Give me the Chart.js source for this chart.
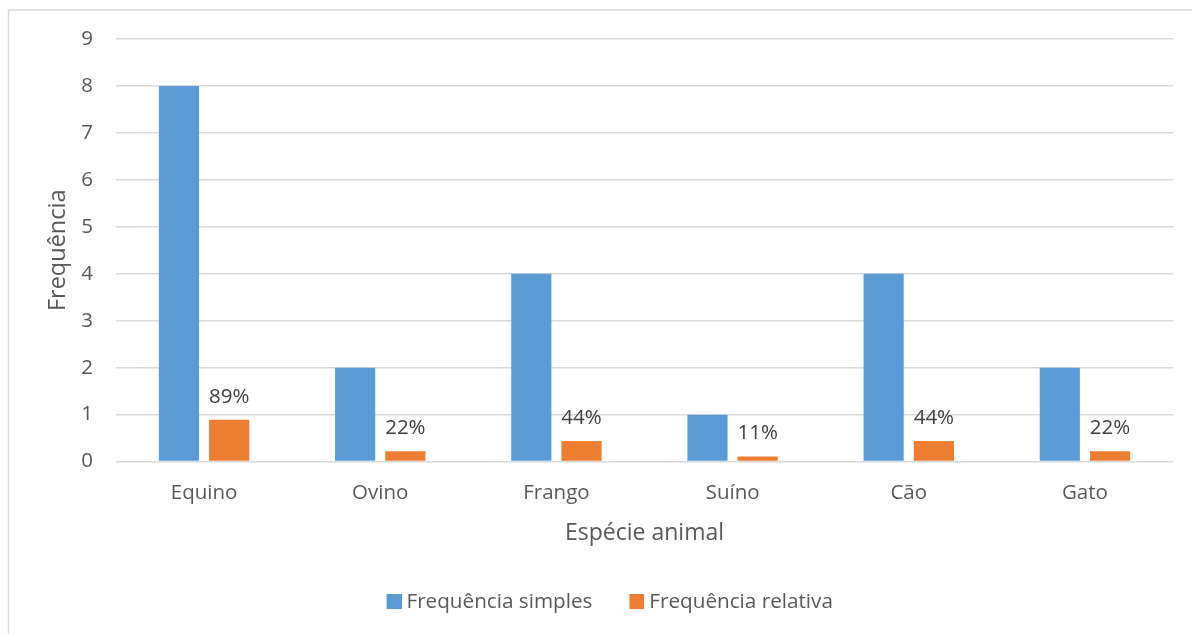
<!DOCTYPE html>
<html>
<head>
<meta charset="utf-8">
<script src="https://cdn.jsdelivr.net/npm/chart.js@4"></script>
<style>
  html, body { margin: 0; padding: 0; background: #ffffff; }
  #wrap { position: relative; width: 1192px; height: 634px; }
</style>
</head>
<body>
<div id="wrap"><canvas id="chart" width="1192" height="634"></canvas></div>
<script>
// Espécies animais e frequências observadas
const especies = ['Equino', 'Ovino', 'Frango', 'Suíno', 'Cão', 'Gato'];
const frequenciaSimples = [8, 2, 4, 1, 4, 2];
const frequenciaRelativa = [0.89, 0.22, 0.44, 0.11, 0.44, 0.22];
const rotulosRelativos = ['89%', '22%', '44%', '11%', '44%', '22%'];
const yTicks = [0, 1, 2, 3, 4, 5, 6, 7, 8, 9];

const FONT = "'Open Sans', 'Noto Sans', sans-serif";
const TEXT = '#595959';
const AZUL = '#5b9bd5';
const LARANJA = '#ed7d31';

// Quadrado da legenda desenhado à direita da área reservada,
// deixando o texto mais próximo do marcador
function marcador(cor) {
  const cv = document.createElement('canvas');
  cv.width = 26;
  cv.height = 15;
  const g = cv.getContext('2d');
  g.fillStyle = cor;
  g.fillRect(11, 0, 15, 15);
  return cv;
}
const marcadores = [marcador(AZUL), marcador(LARANJA)];

// Moldura cinza em volta do gráfico
const moldura = {
  id: 'moldura',
  beforeDraw(chart) {
    const ctx = chart.ctx;
    ctx.save();
    ctx.fillStyle = '#ffffff';
    ctx.fillRect(0, 0, chart.width, chart.height);
    ctx.strokeStyle = '#d9d9d9';
    ctx.lineWidth = 1.5;
    ctx.beginPath();
    ctx.moveTo(8.5, chart.height + 5);
    ctx.lineTo(8.5, 10);
    ctx.lineTo(chart.width + 5, 10);
    ctx.stroke();
    ctx.restore();
  }
};

// Centraliza a legenda na largura total da moldura
const legendaCentrada = {
  id: 'legendaCentrada',
  afterLayout(chart) {
    const lg = chart.legend;
    if (lg) {
      lg.left += 11;
      lg.right += 11;
    }
  }
};

// Rótulos percentuais acima das barras de frequência relativa
const rotulos = {
  id: 'rotulos',
  afterDatasetsDraw(chart) {
    const ctx = chart.ctx;
    const meta = chart.getDatasetMeta(1);
    ctx.save();
    ctx.font = '20.5px ' + FONT;
    ctx.fillStyle = '#404040';
    ctx.textAlign = 'center';
    ctx.textBaseline = 'alphabetic';
    meta.data.forEach((bar, i) => {
      ctx.fillText(rotulosRelativos[i], bar.x, bar.y - 17);
    });
    ctx.restore();
  }
};

new Chart(document.getElementById('chart'), {
  type: 'bar',
  data: {
    labels: especies,
    datasets: [
      {
        label: 'Frequência simples',
        data: frequenciaSimples,
        backgroundColor: AZUL,
        categoryPercentage: 0.57,
        barPercentage: 0.8
      },
      {
        label: 'Frequência relativa',
        data: frequenciaRelativa,
        backgroundColor: LARANJA,
        categoryPercentage: 0.57,
        barPercentage: 0.8
      }
    ]
  },
  options: {
    responsive: false,
    animation: false,
    events: [],
    layout: { padding: { left: 19, right: 19, top: 39, bottom: 12 } },
    plugins: {
      tooltip: { enabled: false },
      legend: {
        position: 'bottom',
        labels: {
          font: { family: FONT, size: 20.7 },
          color: TEXT,
          boxWidth: 15,
          boxHeight: 15,
          usePointStyle: true,
          padding: 31.5,
          generateLabels(chart) {
            const itens = Chart.defaults.plugins.legend.labels.generateLabels(chart);
            itens.forEach((item, i) => { item.pointStyle = marcadores[i]; });
            return itens;
          }
        }
      }
    },
    scales: {
      x: {
        grid: { display: false, drawTicks: false },
        border: { display: false },
        ticks: { font: { family: FONT, size: 20.5 }, color: TEXT, padding: 19 },
        title: {
          display: true,
          text: 'Espécie animal',
          font: { family: FONT, size: 23 },
          color: TEXT,
          padding: { top: -5, bottom: 13 }
        }
      },
      y: {
        min: 0,
        max: 9,
        afterBuildTicks(scale) {
          scale.ticks = yTicks.map(v => ({ value: v }));
        },
        afterFit(scale) {
          scale.width = 97;
        },
        grid: { color: '#d9d9d9', lineWidth: 1.5, drawTicks: false },
        border: { display: false },
        ticks: { font: { family: FONT, size: 20.5 }, color: TEXT, padding: 23 },
        title: {
          display: true,
          text: 'Frequência',
          font: { family: FONT, size: 23.5 },
          color: TEXT,
          padding: { top: 25, bottom: 0 }
        }
      }
    }
  },
  plugins: [moldura, legendaCentrada, rotulos]
});
</script>
</body>
</html>
